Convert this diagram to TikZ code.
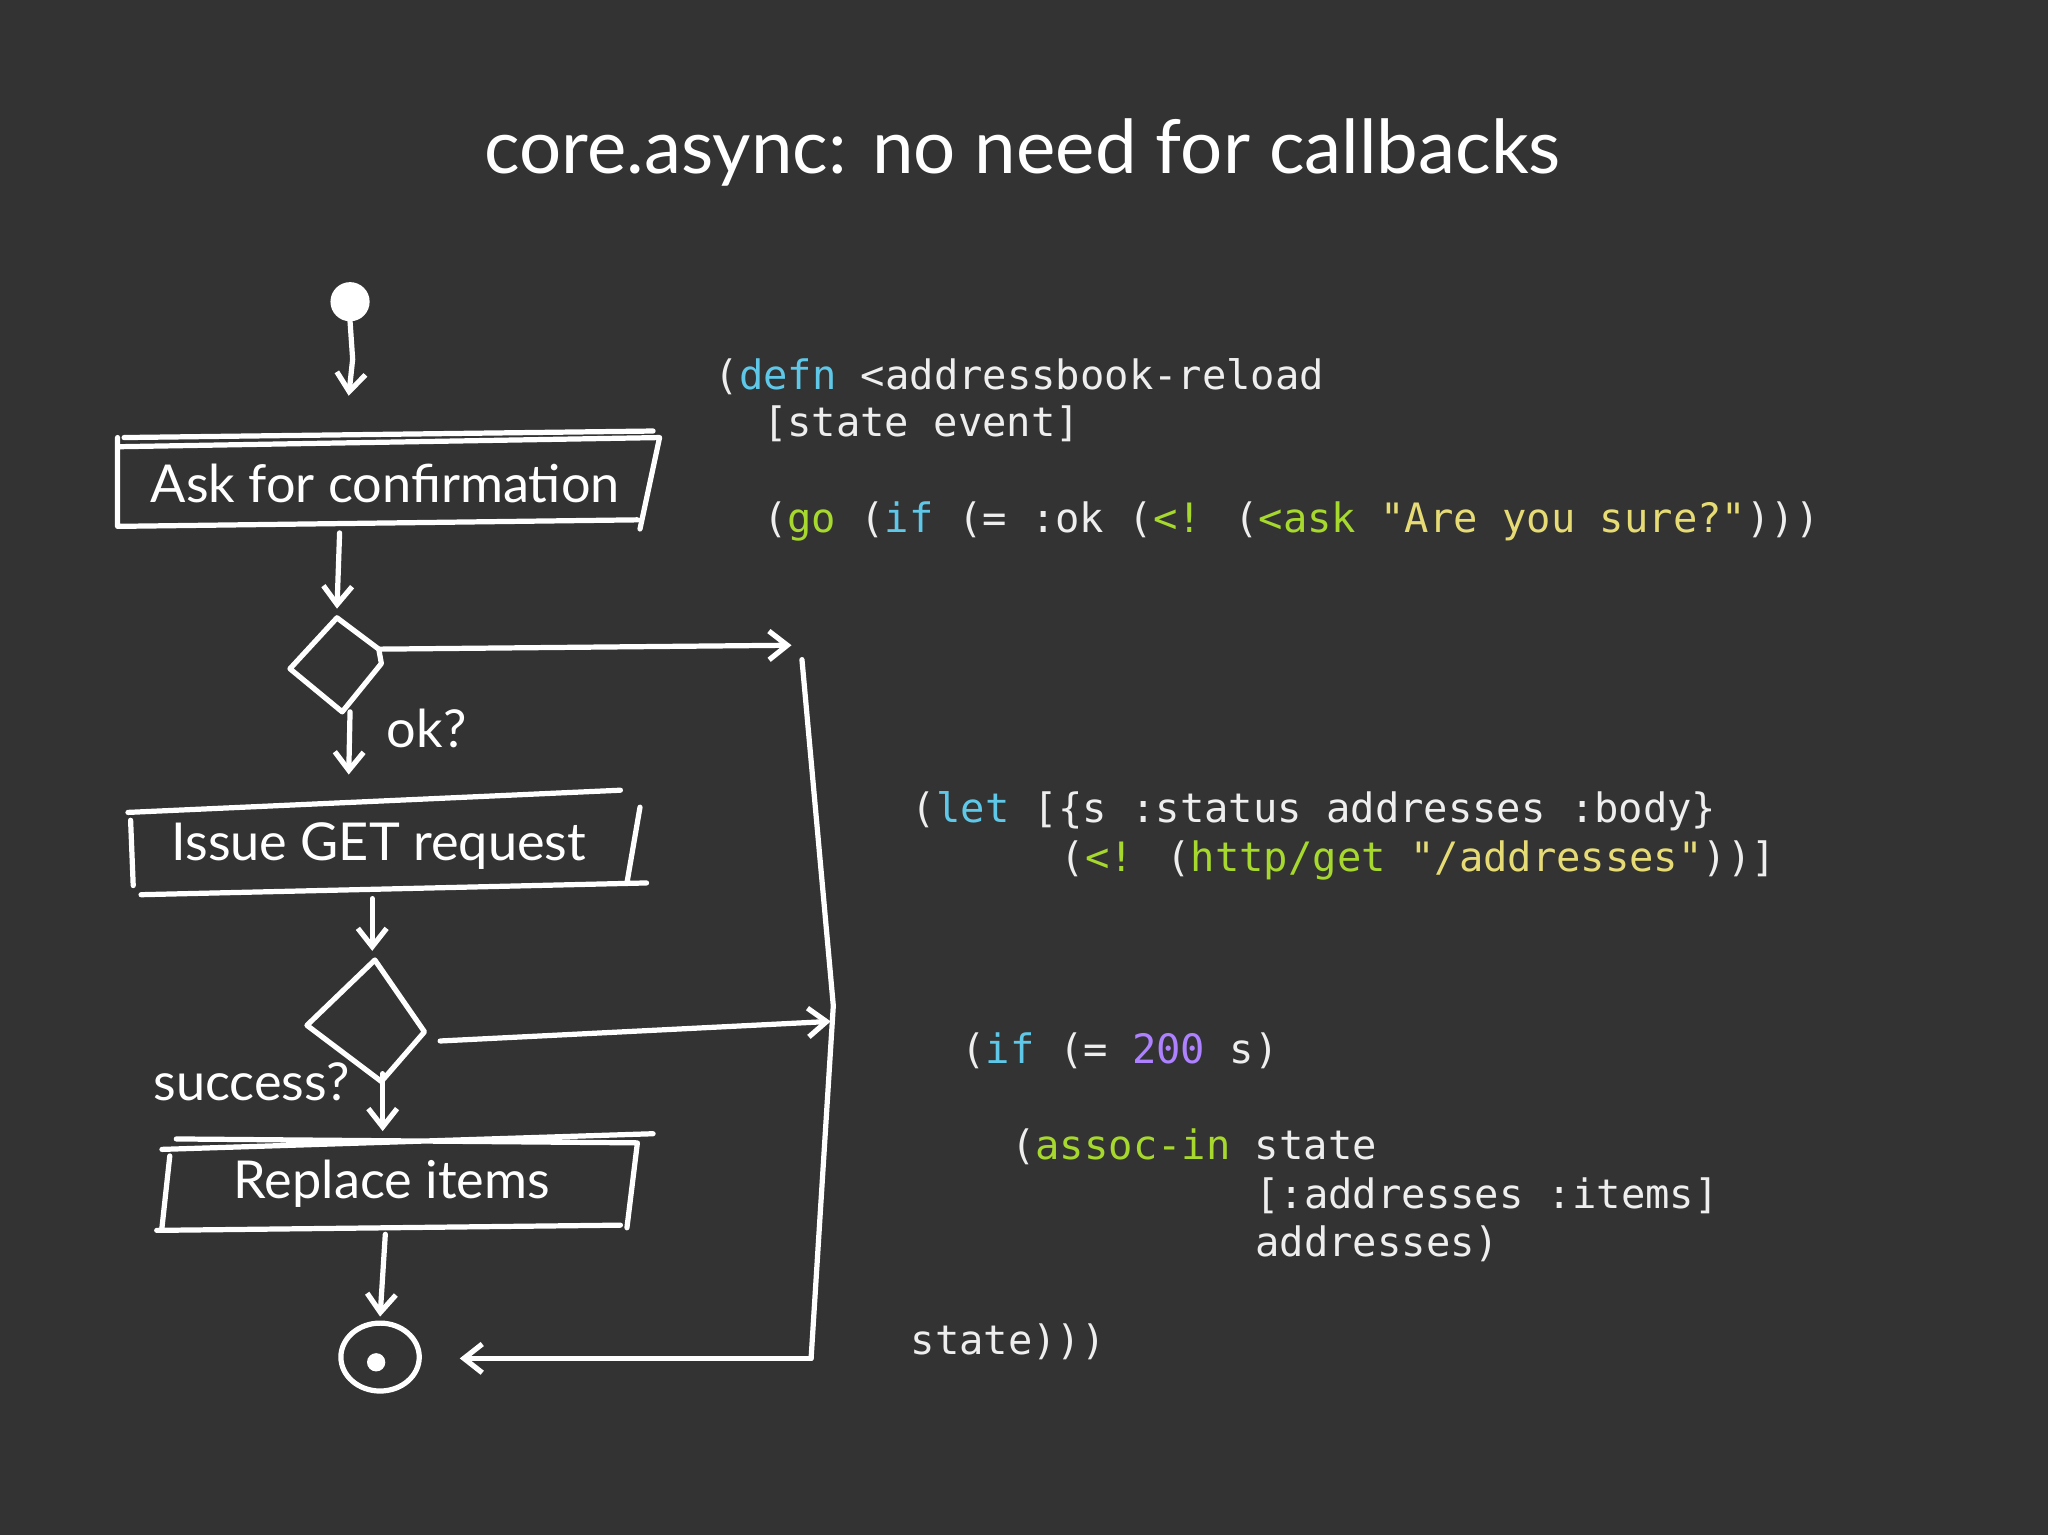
\documentclass[tikz,border=0pt]{standalone}
\usepackage{fontspec}
\setmainfont{Lato}
\newfontfamily\codefont{DejaVu Sans Mono}
\usetikzlibrary{arrows.meta}
\definecolor{bg}{HTML}{333333}
\definecolor{kw}{HTML}{5FC8E8}
\definecolor{fn}{HTML}{A6D82E}
\definecolor{str}{HTML}{E6DB74}
\definecolor{num}{HTML}{AE81FF}
\definecolor{txt}{HTML}{EEEEEE}
\begin{document}
\begin{tikzpicture}[x=1pt,y=-1pt,
  hand/.style={draw=white,line width=4pt,line cap=round,line join=round},
  arr/.style={hand,-{Straight Barb[length=14pt,width=22pt,line width=4pt]}},
  code/.style={anchor=base west,inner sep=0pt,text=txt,font=\codefont\fontsize{31}{31}\selectfont},
  lbl/.style={text=white,inner sep=0pt,font=\fontsize{40}{40}\selectfont}]
\fill[bg] (0,0) rectangle (1568,1175);
\useasboundingbox (0,0) rectangle (1568,1175);
\node[text=white,font=\fontsize{57}{57}\selectfont] (title) at (783,117) {core.async: no need for callbacks};
% code
\node[code] (c1) at (547,298) {(\textcolor{kw}{defn} <addressbook-reload};
\node[code] (c2) at (584,334) {[state event]};
\node[code] (c3) at (584,408) {(\textcolor{fn}{go} (\textcolor{kw}{if} (= :ok (\textcolor{fn}{<!} (\textcolor{fn}{<ask} \textcolor{str}{"Are you sure?"})))};
\node[code] (c4) at (698,630) {(\textcolor{kw}{let} [\{s :status addresses :body\}};
\node[code] (c5) at (812,667) {(\textcolor{fn}{<!} (\textcolor{fn}{http/get} \textcolor{str}{"/addresses"}))]};
\node[code] (c6) at (736,814) {(\textcolor{kw}{if} (= \textcolor{num}{200} s)};
\node[code] (c7) at (774,888) {(\textcolor{fn}{assoc-in} state};
\node[code] (c8) at (961,925) {[:addresses :items]};
\node[code] (c9) at (961,962) {addresses)};
\node[code] (c10) at (697,1037) {state)))};
% start
\fill[white] (268,231) circle (15);
\coordinate (s0) at (268,246);
\coordinate (b1t) at (267,303);
\draw[arr] (s0) -- (270,275) -- (b1t);
% box1
\draw[hand] (90,335) -- (90,403) -- (488,398) (92,342) -- (505,335) -- (490,405);
\draw[hand] (95,335) -- (500,330);
\node[lbl] (ask) at (295,370) {Ask for confirmation};
\coordinate (b1b) at (260,408);
\coordinate (d1t) at (258,466);
\draw[arr] (b1b) -- (d1t);
% diamond1
\draw[hand] (258,473) -- (222,512) -- (262,545) -- (292,508) -- (290,497) -- cycle;
\coordinate (d1r) at (290,497);
\coordinate (r1) at (606,494);
\draw[arr] (d1r) -- (r1);
\coordinate (d1b) at (268,545);
\coordinate (b2t) at (267,593);
\draw[arr] (d1b) -- (b2t);
\node[lbl,anchor=west] (ok) at (296,558) {ok?};
% box2
\draw[hand] (98,622) -- (475,605) (100,628) -- (102,678) (108,685) -- (495,676) (490,618) -- (480,676);
\node[lbl] (issue) at (290,648) {Issue GET request};
\coordinate (b2b) at (285,688);
\coordinate (d2t) at (285,728);
\draw[arr] (b2b) -- (d2t);
% diamond2
\draw[hand] (287,735) -- (235,785) -- (292,828) -- (325,790) -- cycle;
\coordinate (d2r) at (337,797);
\coordinate (r2) at (636,782);
\draw[arr] (d2r) -- (r2);
\node[lbl,anchor=east] (succ) at (268,828) {success?};
\coordinate (d2b) at (293,822);
\coordinate (b3t) at (293,866);
\draw[arr] (d2b) -- (b3t);
% box3
\draw[hand] (124,880) -- (500,868) (130,885) -- (124,940) (120,942) -- (475,938) (135,872) -- (488,875) -- (480,940);
\node[lbl] (repl) at (300,906) {Replace items};
\coordinate (b3b) at (295,945);
\coordinate (et) at (291,1008);
\draw[arr] (b3b) -- (et);
% end
\draw[hand] (291,1039) ellipse (30 and 26);
\fill[white] (288,1043) circle (7);
% right line
\coordinate (rt) at (614,505);
\coordinate (rb) at (621,1040);
\coordinate (eR) at (352,1040);
\draw[hand] (rt) -- (638,770) -- (rb);
\draw[arr] (rb) -- (eR);
\end{tikzpicture}
\end{document}
